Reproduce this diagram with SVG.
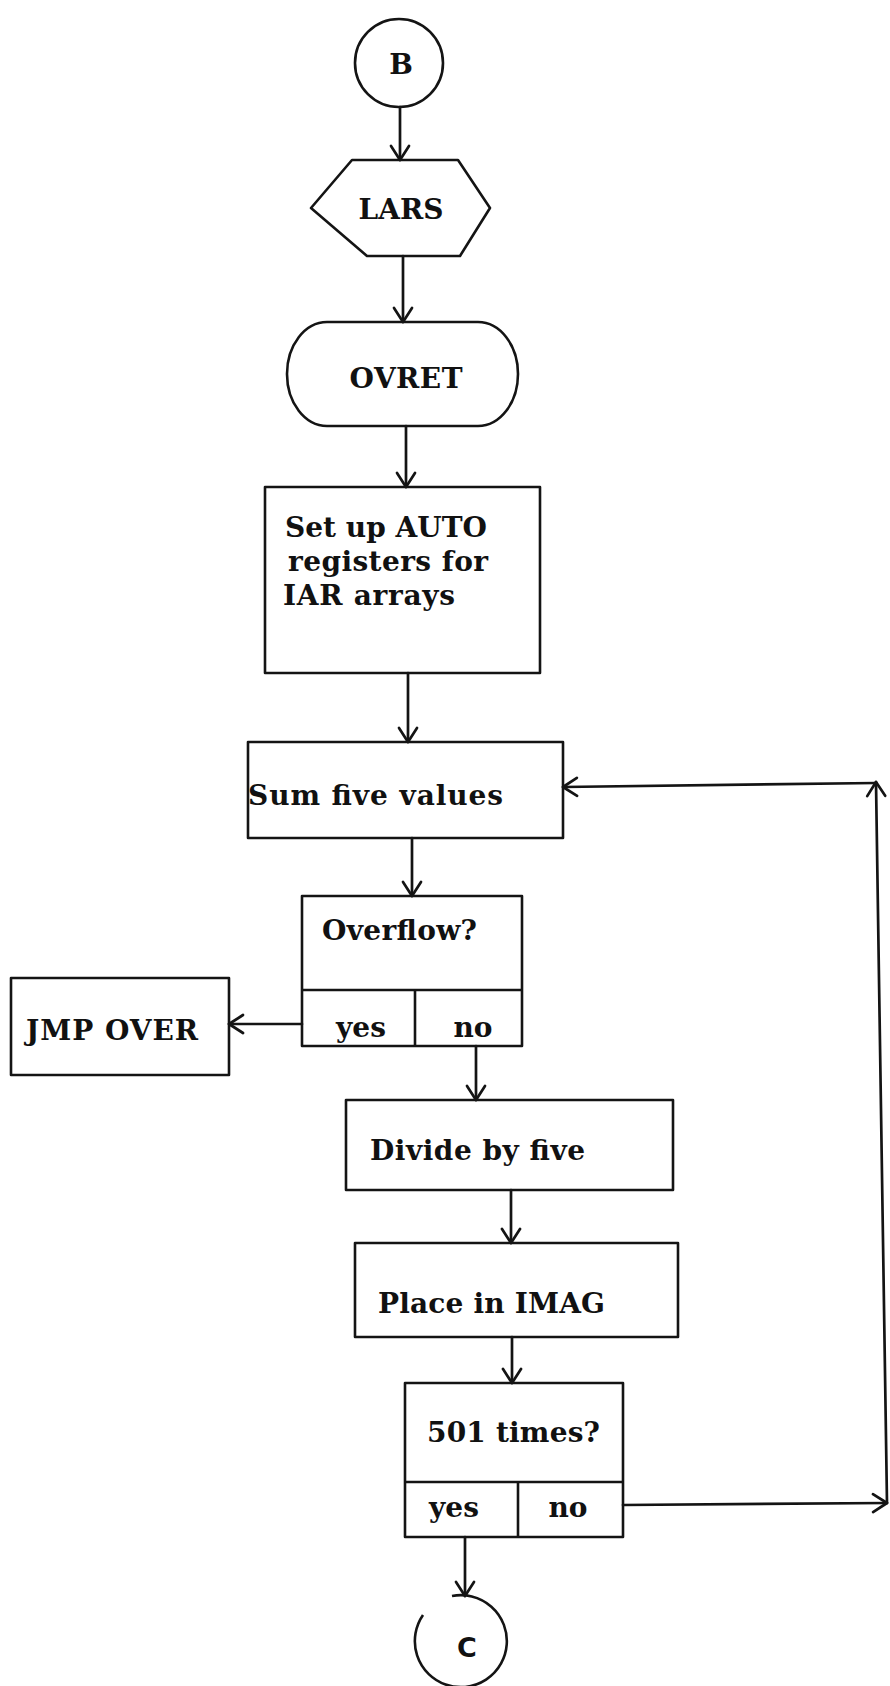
<svg xmlns="http://www.w3.org/2000/svg" width="890" height="1686" viewBox="0 0 890 1686">
<style>
.s{fill:none;stroke:#141414;stroke-width:2.6;stroke-linejoin:round}
.c{fill:none;stroke:#141414;stroke-width:2.7;stroke-linecap:round}
.t{font-family:"DejaVu Serif","Liberation Serif",serif;font-weight:bold;font-size:28px;fill:#111111}
.sans{font-family:"DejaVu Sans","Liberation Sans",sans-serif;font-weight:bold;font-size:27px;fill:#111111}
</style>
<defs>
<marker id="ah" markerUnits="userSpaceOnUse" markerWidth="32" markerHeight="32" viewBox="-16 -16 32 32" refX="0" refY="0" orient="auto">
<path d="M-14,-9 L0,0 L-14,9" fill="none" stroke="#141414" stroke-width="2.7" stroke-linecap="round" stroke-linejoin="round"/>
</marker>
</defs>
<rect width="890" height="1686" fill="#ffffff"/>

<g id="connectors">
<path class="c" d="M400,107 L400,160" marker-end="url(#ah)"/>
<path class="c" d="M403,256 L403,322" marker-end="url(#ah)"/>
<path class="c" d="M406,426 L406,487" marker-end="url(#ah)"/>
<path class="c" d="M408,673 L408,742" marker-end="url(#ah)"/>
<path class="c" d="M412,838 L412,896" marker-end="url(#ah)"/>
<path class="c" d="M302,1024 L229,1024" marker-end="url(#ah)"/>
<path class="c" d="M476,1046 L476,1100" marker-end="url(#ah)"/>
<path class="c" d="M511,1190 L511,1243" marker-end="url(#ah)"/>
<path class="c" d="M512,1337 L512,1383" marker-end="url(#ah)"/>
<path class="c" d="M465,1537 L465,1596" marker-end="url(#ah)"/>
<path class="c" d="M623,1505 L887,1503" marker-end="url(#ah)"/>
<path class="c" d="M887,1503 L876,782" marker-end="url(#ah)"/>
<path class="c" d="M876,783 L563,787" marker-end="url(#ah)"/>
</g>

<g id="node-B">
<circle class="s" cx="399" cy="63" r="44"/>
<text class="t" x="401" y="74" text-anchor="middle" font-size="25">B</text>
</g>

<g id="node-LARS">
<polygon class="s" points="352,160 458,160 490,208 460,256 367,256 311,208"/>
<text class="t" x="401" y="219" text-anchor="middle" textLength="85">LARS</text>
</g>

<g id="node-OVRET">
<path class="s" d="M327,322 H478 A40,52 0 0 1 478,426 H327 A40,52 0 0 1 327,322 Z"/>
<text class="t" x="406" y="388" text-anchor="middle" textLength="113">OVRET</text>
</g>

<g id="node-setup">
<rect class="s" x="265" y="487" width="275" height="186"/>
<text class="t" x="285" y="537" textLength="202">Set up AUTO</text>
<text class="t" x="288" y="571" textLength="200">registers for</text>
<text class="t" x="283" y="605" textLength="172">IAR arrays</text>
</g>

<g id="node-sum">
<rect class="s" x="248" y="742" width="315" height="96"/>
<text class="t" x="248" y="805" textLength="255">Sum five values</text>
</g>

<g id="node-overflow">
<rect class="s" x="302" y="896" width="220" height="150"/>
<line class="s" x1="302" y1="990" x2="522" y2="990"/>
<line class="s" x1="415" y1="990" x2="415" y2="1046"/>
<text class="t" x="322" y="940" textLength="155">Overflow?</text>
<text class="t" x="361" y="1037" text-anchor="middle">yes</text>
<text class="t" x="473" y="1037" text-anchor="middle">no</text>
</g>

<g id="node-jmp">
<rect class="s" x="11" y="978" width="218" height="97"/>
<text class="t" x="26" y="1040" textLength="172">JMP OVER</text>
</g>

<g id="node-divide">
<rect class="s" x="346" y="1100" width="327" height="90"/>
<text class="t" x="370" y="1160" textLength="215">Divide by five</text>
</g>

<g id="node-place">
<rect class="s" x="355" y="1243" width="323" height="94"/>
<text class="t" x="378" y="1313" textLength="227">Place in IMAG</text>
</g>

<g id="node-501">
<rect class="s" x="405" y="1383" width="218" height="154"/>
<line class="s" x1="405" y1="1482" x2="623" y2="1482"/>
<line class="s" x1="518" y1="1482" x2="518" y2="1537"/>
<text class="t" x="427" y="1442" textLength="173">501 times?</text>
<text class="t" x="454" y="1517" text-anchor="middle">yes</text>
<text class="t" x="568" y="1517" text-anchor="middle">no</text>
</g>

<g id="node-C">
<path class="s" d="M452,1596 A46,46 0 1 1 423,1615"/>
<text class="sans" x="467" y="1657" text-anchor="middle">C</text>
</g>
</svg>
